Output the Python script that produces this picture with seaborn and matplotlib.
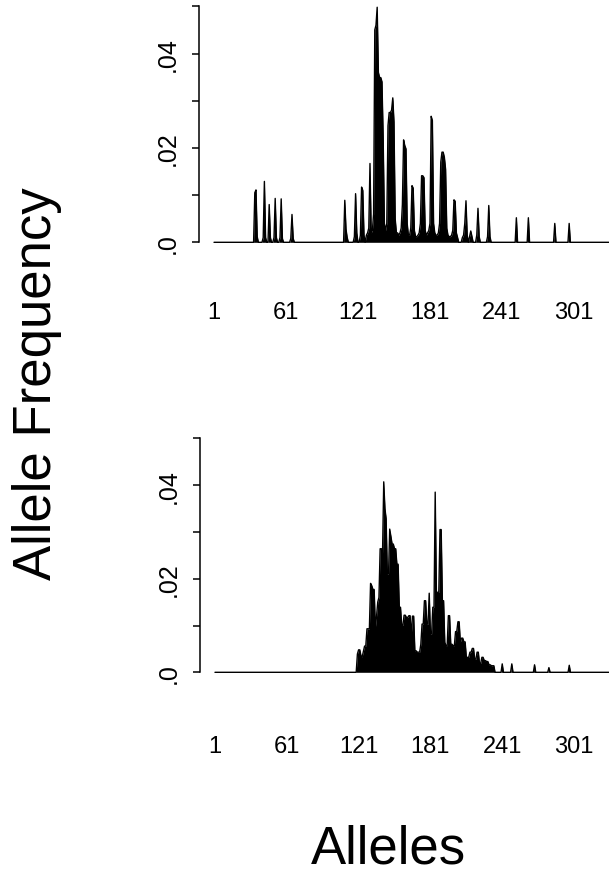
import numpy as np
import pandas as pd
import matplotlib
matplotlib.use("Agg")
import matplotlib.pyplot as plt
import seaborn as sns

ALLELE_MAX = 331

# Upper population: alleles with non-zero frequency
upper_alleles = [
    35, 36, 37, 42, 43, 44, 47, 48, 51, 52, 53, 56, 57, 58, 65, 66, 67,
    110, 111, 112, 118, 119, 120, 123, 124, 125, 126,
    128, 129, 130, 131, 132, 133, 134,
    135, 136, 137, 138, 139, 140, 141, 142, 143, 144, 145,
    146, 147, 148, 149, 150, 151, 152, 153, 154, 155, 156, 157,
    158, 159, 160, 161, 162, 163, 164, 165,
    166, 167, 168, 169, 170, 171, 172, 173,
    174, 175, 176, 177, 178, 179, 180, 181,
    182, 183, 184, 185, 186, 187, 188, 189,
    190, 191, 192, 193, 194, 195, 196, 197, 198, 199, 200,
    201, 202, 203, 204, 208, 209,
    210, 211, 212, 214, 215, 216, 220, 221, 222, 229, 230, 231,
    253, 263, 285, 297,
]
upper_freqs = [
    0.0105, 0.0111, 0.0012, 0.0010, 0.0129, 0.0010, 0.0080, 0.0010, 0.0010, 0.0093, 0.0010,
    0.0010, 0.0092, 0.0008, 0.0008, 0.0059, 0.0008,
    0.0089, 0.0028, 0.0010, 0.0012, 0.0103, 0.0020, 0.0015, 0.0117, 0.0110, 0.0015,
    0.0015, 0.0020, 0.0030, 0.0167, 0.0020, 0.0025, 0.0060,
    0.0450, 0.0460, 0.0498, 0.0360, 0.0349, 0.0349, 0.0340, 0.0220, 0.0040, 0.0025, 0.0040,
    0.0247, 0.0275, 0.0275, 0.0280, 0.0306, 0.0255, 0.0050, 0.0020, 0.0020, 0.0015, 0.0020, 0.0030,
    0.0080, 0.0217, 0.0205, 0.0198, 0.0040, 0.0015, 0.0015, 0.0030,
    0.0120, 0.0115, 0.0025, 0.0012, 0.0012, 0.0015, 0.0020, 0.0040,
    0.0141, 0.0141, 0.0137, 0.0025, 0.0015, 0.0020, 0.0025, 0.0040,
    0.0267, 0.0258, 0.0040, 0.0020, 0.0015, 0.0015, 0.0020, 0.0040,
    0.0170, 0.0191, 0.0191, 0.0180, 0.0155, 0.0030, 0.0015, 0.0012, 0.0012, 0.0015, 0.0025,
    0.0090, 0.0087, 0.0020, 0.0010, 0.0010, 0.0015,
    0.0040, 0.0088, 0.0015, 0.0012, 0.0024, 0.0012, 0.0015, 0.0072, 0.0012, 0.0012, 0.0078, 0.0012,
    0.0052, 0.0052, 0.0040, 0.0040,
]

# Lower population: contiguous block 120-234 plus a few rare alleles
lower_alleles = list(range(120, 235)) + [241, 249, 268, 280, 297]
lower_freqs = [
    0.0039, 0.0048, 0.0048, 0.0035, 0.0033, 0.0045, 0.0056, 0.0056, 0.0093, 0.0093,  # 120-129
    0.0093, 0.0190, 0.0185, 0.0177, 0.0177, 0.0095, 0.0120, 0.0150, 0.0160, 0.0264,  # 130-139
    0.0264, 0.0255, 0.0407, 0.0350, 0.0328, 0.0210, 0.0210, 0.0306, 0.0290, 0.0274,  # 140-149
    0.0274, 0.0264, 0.0264, 0.0231, 0.0231, 0.0139, 0.0139, 0.0100, 0.0100, 0.0122,  # 150-159
    0.0122, 0.0117, 0.0117, 0.0121, 0.0121, 0.0078, 0.0120, 0.0120, 0.0046, 0.0046,  # 160-169
    0.0043, 0.0043, 0.0043, 0.0060, 0.0103, 0.0103, 0.0153, 0.0153, 0.0103, 0.0103,  # 170-179
    0.0169, 0.0082, 0.0082, 0.0139, 0.0139, 0.0385, 0.0171, 0.0171, 0.0171, 0.0305,  # 180-189
    0.0305, 0.0153, 0.0153, 0.0064, 0.0057, 0.0057, 0.0121, 0.0121, 0.0060, 0.0060,  # 190-199
    0.0057, 0.0057, 0.0087, 0.0087, 0.0108, 0.0108, 0.0064, 0.0073, 0.0073, 0.0065,  # 200-209
    0.0065, 0.0032, 0.0032, 0.0032, 0.0043, 0.0043, 0.0051, 0.0051, 0.0028, 0.0028,  # 210-219
    0.0043, 0.0043, 0.0019, 0.0019, 0.0032, 0.0032, 0.0025, 0.0025, 0.0023, 0.0023,  # 220-229
    0.0016, 0.0016, 0.0014, 0.0014, 0.0014,                                          # 230-234
    0.0018, 0.0018, 0.0016, 0.0010, 0.0015,
]

x_ticks = [1, 61, 121, 181, 241, 301]
y_ticks = [0.0, 0.01, 0.02, 0.03, 0.04, 0.05]
y_tick_labels = [".0", "", ".02", "", ".04", ""]


def full_series(alleles, freqs):
    s = pd.Series(0.0, index=np.arange(1, ALLELE_MAX + 1))
    s.loc[alleles] = freqs
    return pd.DataFrame({"allele": s.index.values, "freq": s.values})


sns.set_style("white")
plt.rcParams["font.family"] = ["Liberation Sans", "DejaVu Sans"]
plt.rcParams["text.color"] = "black"
plt.rcParams["xtick.color"] = "black"
plt.rcParams["ytick.color"] = "black"
plt.rcParams["axes.labelcolor"] = "black"

W, H = 609, 878
fig = plt.figure(figsize=(W / 100, H / 100), dpi=100)


def px_axes(left, top, right, bottom):
    return fig.add_axes([left / W, 1 - bottom / H, (right - left) / W, (bottom - top) / H])


panels = [
    (px_axes(199, 7.3, 609, 243.3), full_series(upper_alleles, upper_freqs), 42),
    (px_axes(200, 439.3, 609, 673.3), full_series(lower_alleles, lower_freqs), 45),
]

for ax, df, xpad in panels:
    sns.lineplot(data=df, x="allele", y="freq", ax=ax, color="black",
                 linewidth=1.0, estimator=None, clip_on=False)
    ax.fill_between(df["allele"], df["freq"], color="black", linewidth=0)
    ax.set_xlim(-11.5, 330.2)
    ax.set_ylim(0, 0.05)
    ax.set_xticks(x_ticks)
    ax.set_xticklabels([str(t) for t in x_ticks], fontsize=17)
    ax.set_yticks(y_ticks)
    ax.set_yticklabels(y_tick_labels, fontsize=18, rotation=90, va="center")
    ax.tick_params(axis="x", length=0, pad=xpad)
    ax.tick_params(axis="y", direction="out", length=5, width=1.1, pad=9, left=True)
    ax.set_xlabel("")
    ax.set_ylabel("")
    sns.despine(ax=ax, bottom=True)
    ax.spines["left"].set_linewidth(1.1)
    ax.spines["left"].set_color("black")

fig.text(37 / W, 1 - 384 / H, "Allele Frequency", rotation=90, fontsize=38,
         ha="center", va="center")
fig.text(388 / W, 1 - 850 / H, "Alleles", fontsize=38, ha="center", va="center")

fig.savefig("out.png", dpi=100)
